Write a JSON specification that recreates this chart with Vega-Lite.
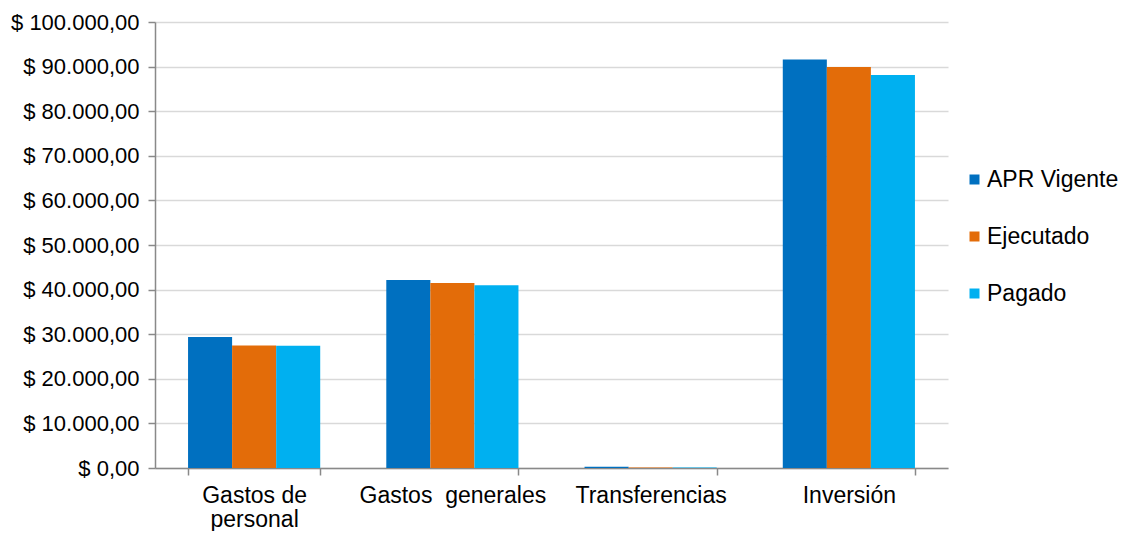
{
  "$schema": "https://vega.github.io/schema/vega-lite/v6.json",
  "width": 793,
  "height": 446,
  "padding": {"left": 10, "top": 11, "right": 0, "bottom": 0},
  "background": "white",
  "config": {
    "font": "Liberation Sans",
    "view": {"stroke": null},
    "locale": {
      "number": {"decimal": ",", "thousands": ".", "grouping": [3], "currency": ["$ ", ""]}
    }
  },
  "data": {
    "values": [
      {"cat": "Gastos de personal", "serie": "APR Vigente", "valor": 29400},
      {"cat": "Gastos de personal", "serie": "Ejecutado", "valor": 27450},
      {"cat": "Gastos de personal", "serie": "Pagado", "valor": 27400},
      {"cat": "Gastos  generales", "serie": "APR Vigente", "valor": 42150},
      {"cat": "Gastos  generales", "serie": "Ejecutado", "valor": 41500},
      {"cat": "Gastos  generales", "serie": "Pagado", "valor": 41000},
      {"cat": "Transferencias", "serie": "APR Vigente", "valor": 300},
      {"cat": "Transferencias", "serie": "Ejecutado", "valor": 100},
      {"cat": "Transferencias", "serie": "Pagado", "valor": 100},
      {"cat": "Inversión", "serie": "APR Vigente", "valor": 91600},
      {"cat": "Inversión", "serie": "Ejecutado", "valor": 89900},
      {"cat": "Inversión", "serie": "Pagado", "valor": 88100}
    ]
  },
  "mark": {"type": "bar"},
  "encoding": {
    "x": {
      "field": "cat",
      "type": "nominal",
      "sort": ["Gastos de personal", "Gastos  generales", "Transferencias", "Inversión"],
      "scale": {"paddingInner": 0.3333, "paddingOuter": 0.1667},
      "axis": {
        "title": null,
        "labelAngle": 0,
        "labelFontSize": 23,
        "labelColor": "#000000",
        "labelPadding": 9,
        "labelLineHeight": 24,
        "labelLimit": 0,
        "labelExpr": "datum.label == 'Gastos de personal' ? ['Gastos de', 'personal'] : replace(datum.label, '  ', '\u00a0 ')",
        "tickBand": "extent",
        "tickSize": 7,
        "tickColor": "#898989",
        "domainColor": "#898989",
        "domainWidth": 1.5,
        "tickWidth": 1.5,
        "grid": false
      }
    },
    "xOffset": {"field": "serie", "type": "nominal", "sort": ["APR Vigente", "Ejecutado", "Pagado"], "scale": {"paddingInner": 0}},
    "y": {
      "field": "valor",
      "type": "quantitative",
      "scale": {"domain": [0, 100000]},
      "axis": {
        "title": null,
        "values": [0, 10000, 20000, 30000, 40000, 50000, 60000, 70000, 80000, 90000, 100000],
        "format": "$,.2f",
        "labelFontSize": 22,
        "labelColor": "#000000",
        "labelPadding": 9,
        "tickSize": 7,
        "tickColor": "#898989",
        "domainColor": "#898989",
        "domainWidth": 1.5,
        "tickWidth": 1.5,
        "gridColor": "#d9d9d9",
        "gridWidth": 1.5
      }
    },
    "color": {
      "field": "serie",
      "type": "nominal",
      "sort": ["APR Vigente", "Ejecutado", "Pagado"],
      "scale": {"domain": ["APR Vigente", "Ejecutado", "Pagado"], "range": ["#0070C0", "#E36C09", "#00B0F0"]},
      "legend": {
        "title": null,
        "orient": "none",
        "legendX": 808,
        "legendY": 146,
        "symbolType": "square",
        "symbolSize": 100,
        "symbolStrokeWidth": 0,
        "labelFontSize": 23,
        "labelColor": "#000000",
        "labelOffset": 1,
        "labelLimit": 0,
        "rowPadding": 33
      }
    }
  }
}
